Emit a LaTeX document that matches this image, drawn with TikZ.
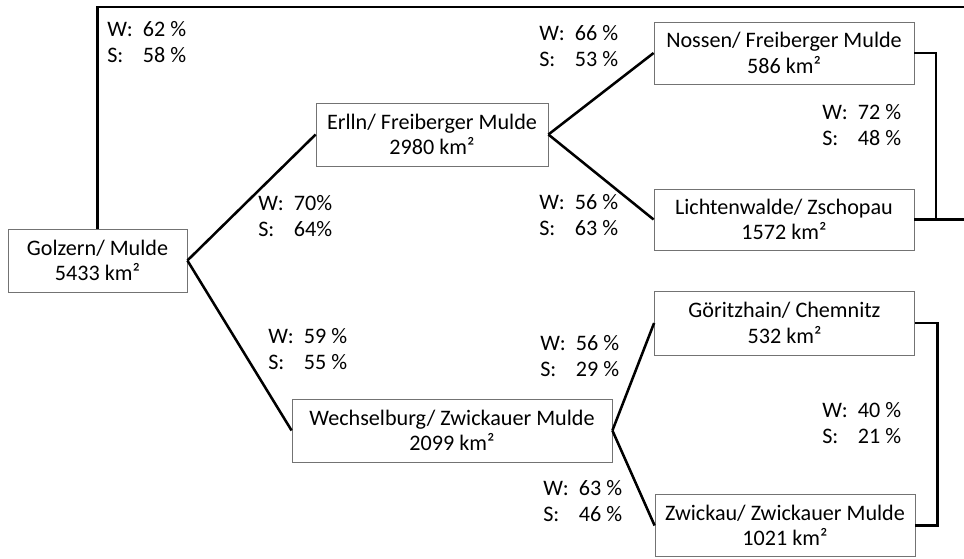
\documentclass[tikz,border=0pt]{standalone}
\usepackage{fontspec}
\setmainfont{Carlito}
\usetikzlibrary{positioning}

% two-line winter/summer share label
\newcommand{\wsrate}[2]{\begin{tabular}{@{}l@{\hspace{7.5pt}}l@{}}W: & #1\\ S: & #2\end{tabular}}

\begin{document}
\begin{tikzpicture}[x=0.75pt,y=-0.75pt,
    station/.style={draw=black!55, line width=0.6pt, inner sep=0pt, align=center,
        minimum height=63*0.75pt, font=\fontsize{16.6}{19}\selectfont},
    rate/.style={inner sep=0pt, anchor=west, font=\fontsize{16.6}{19.5}\selectfont},
    link/.style={line width=1.9pt}]
    \useasboundingbox (0,0) rectangle (964,558);

    % gauging stations
    \node[station, minimum width=179*0.75pt] (golzern) at (97.5,260.5) {Golzern/ Mulde\\5433 km²};
    \node[station, minimum width=232*0.75pt] (erlln) at (432,134.5) {Erlln/ Freiberger Mulde\\2980 km²};
    \node[station, minimum width=320*0.75pt] (wechsel) at (452,430.5) {Wechselburg/ Zwickauer Mulde\\2099 km²};
    \node[station, minimum width=260*0.75pt, minimum height=62*0.75pt] (nossen) at (784,53) {Nossen/ Freiberger Mulde\\586 km²};
    \node[station, minimum width=260*0.75pt, minimum height=61*0.75pt] (lichten) at (784,219.5) {Lichtenwalde/ Zschopau\\1572 km²};
    \node[station, minimum width=260*0.75pt, minimum height=64*0.75pt] (goeritz) at (784.5,323) {Göritzhain/ Chemnitz\\532 km²};
    \node[station, minimum width=260*0.75pt, minimum height=62*0.75pt] (zwickau) at (785,525.5) {Zwickau/ Zwickauer Mulde\\1021 km²};

    % free ends at the right margin
    \coordinate (outtop) at (964,7);
    \coordinate (outmid) at (964,219.5);

    % river links
    \draw[link] (golzern.north) |- (outtop);
    \draw[link] (golzern.east) -- (erlln.west);
    \draw[link] (golzern.east) -- (wechsel.west);
    \draw[link] (erlln.east) -- (nossen.west);
    \draw[link] (erlln.east) -- (lichten.west);
    \draw[link] (wechsel.east) -- (goeritz.west);
    \draw[link] (wechsel.east) -- (zwickau.west);
    \draw[link] (nossen.east) -- ++(21.5,0) |- (lichten.east);
    \draw[link] (lichten.east) -- (outmid);
    \draw[link] (goeritz.east) -- ++(22.5,0) |- (zwickau.east);

    % shares
    \node[rate] (r1) at (107,44.5) {\wsrate{62 \%}{58 \%}};
    \node[rate] (r2) at (258,218.5) {\wsrate{70\%}{64\%}};
    \node[rate] (r3) at (539,48) {\wsrate{66 \%}{53 \%}};
    \node[rate] (r4) at (822,127.5) {\wsrate{72 \%}{48 \%}};
    \node[rate] (r5) at (539,217.5) {\wsrate{56 \%}{63 \%}};
    \node[rate] (r6) at (268,351) {\wsrate{59 \%}{55 \%}};
    \node[rate] (r7) at (540,358) {\wsrate{56 \%}{29 \%}};
    \node[rate] (r8) at (822,425) {\wsrate{40 \%}{21 \%}};
    \node[rate] (r9) at (543,503) {\wsrate{63 \%}{46 \%}};
\end{tikzpicture}
\end{document}
